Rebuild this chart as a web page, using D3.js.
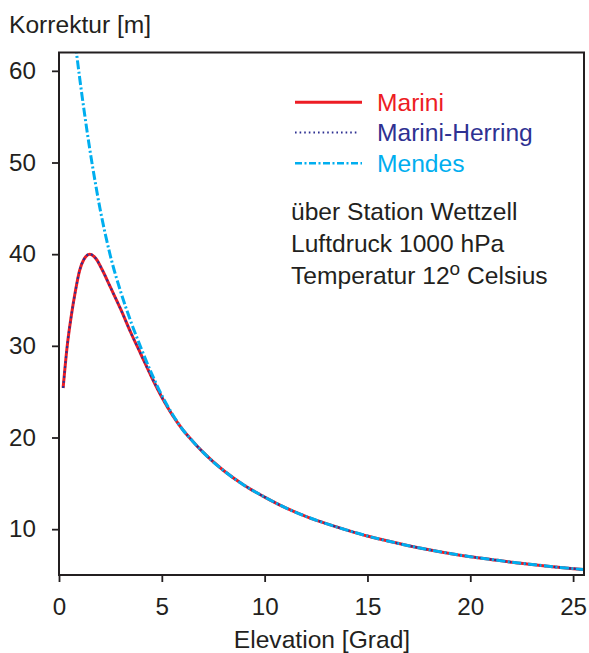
<!DOCTYPE html>
<html>
<head>
<meta charset="utf-8">
<script src="https://cdn.jsdelivr.net/npm/d3@7"></script>
<style>
  html, body { margin: 0; padding: 0; background: #fff; }
  svg { display: block; font-family: "Liberation Sans", Arial, Helvetica, sans-serif; }
</style>
</head>
<body>
<svg id="chart" width="589" height="653"></svg>
<script>
// Elevation angles [Grad] and path corrections [m]
const marini = [
  [0.2, 25.4], [0.4, 30.0], [0.6, 33.3], [0.8, 36.0], [1.0, 38.2], [1.2, 39.4],
  [1.5, 40.0], [1.8, 39.5], [2.1, 38.3], [2.5, 36.4], [3.0, 34.0], [3.5, 31.4],
  [4.0, 29.0], [4.5, 26.6], [5.0, 24.4], [5.5, 22.5], [6.0, 20.9], [6.5, 19.6],
  [7.0, 18.4], [8.0, 16.4], [9.0, 14.8], [10.0, 13.5], [11.0, 12.35], [12.0, 11.4],
  [13.0, 10.6], [14.0, 9.9], [15.0, 9.25], [16.0, 8.7], [17.0, 8.2], [18.0, 7.75],
  [19.0, 7.35], [20.0, 7.0], [21.0, 6.7], [22.0, 6.4], [23.0, 6.15], [24.0, 5.9],
  [25.5, 5.6]
];
const mariniHerring = [
  [0.2, 25.4], [0.4, 30.0], [0.6, 33.3], [0.8, 36.0], [1.0, 38.2], [1.2, 39.4],
  [1.5, 40.0], [1.8, 39.5], [2.1, 38.3], [2.5, 36.4], [3.0, 34.0], [3.5, 31.4],
  [4.0, 29.0], [4.5, 26.6], [5.0, 24.4], [5.5, 22.5], [6.0, 20.9], [6.5, 19.6],
  [7.0, 18.4], [8.0, 16.4], [9.0, 14.8], [10.0, 13.5], [11.0, 12.35], [12.0, 11.4],
  [13.0, 10.6], [14.0, 9.9], [15.0, 9.25], [16.0, 8.7], [17.0, 8.2], [18.0, 7.75],
  [19.0, 7.35], [20.0, 7.0], [21.0, 6.7], [22.0, 6.4], [23.0, 6.15], [24.0, 5.9],
  [25.5, 5.6]
];
const mendes = [
  [0.8, 62.9], [1.0, 59.3], [1.25, 55.2], [1.5, 51.4], [1.75, 48.0], [2.0, 44.9],
  [2.25, 42.2], [2.5, 39.8], [3.0, 35.9], [3.5, 32.6], [4.0, 29.7], [4.5, 27.0],
  [5.0, 24.6], [5.5, 22.6], [6.0, 20.9], [6.5, 19.6], [7.0, 18.4], [8.0, 16.4],
  [9.0, 14.8], [10.0, 13.5], [11.0, 12.35], [12.0, 11.4], [13.0, 10.6], [14.0, 9.9],
  [15.0, 9.25], [16.0, 8.7], [17.0, 8.2], [18.0, 7.75], [19.0, 7.35], [20.0, 7.0],
  [21.0, 6.7], [22.0, 6.4], [23.0, 6.15], [24.0, 5.9], [25.5, 5.6]
];
const xTicks = [0, 5, 10, 15, 20, 25];
const yTicks = [10, 20, 30, 40, 50, 60];
const seriesNames = ["Marini", "Marini-Herring", "Mendes"];
const noteLines = ["über Station Wettzell", "Luftdruck 1000 hPa"];

const ink = "#231f20";
const colors = { red: "#ed1c24", navy: "#2e3192", cyan: "#00aeef" };
const textSize = 24.6;

const svg = d3.select("#chart");
const plotL = 59, plotR = 584, plotT = 52.5, plotB = 575;

const x = d3.scaleLinear().domain([0, 25.53]).range([plotL, plotR]);
const y = d3.scaleLinear().domain([5, 62]).range([plotB, plotT]);

// clip for the curves
svg.append("defs").append("clipPath").attr("id", "plotClip")
  .append("rect").attr("x", plotL).attr("y", plotT)
  .attr("width", plotR - plotL).attr("height", plotB - plotT);

const line = d3.line().x(d => x(d[0])).y(d => y(d[1])).curve(d3.curveMonotoneX);

const curves = svg.append("g").attr("clip-path", "url(#plotClip)");
curves.append("path").datum(marini).attr("d", line)
  .attr("fill", "none").attr("stroke", colors.red).attr("stroke-width", 3);
curves.append("path").datum(mariniHerring).attr("d", line)
  .attr("fill", "none").attr("stroke", colors.navy).attr("stroke-width", 2.2)
  .attr("stroke-dasharray", "2,3");
curves.append("path").datum(mendes).attr("d", line)
  .attr("fill", "none").attr("stroke", colors.cyan).attr("stroke-width", 3)
  .attr("stroke-dasharray", "9,2.5,2,2.5");

// frame
svg.append("rect").attr("x", plotL).attr("y", plotT)
  .attr("width", plotR - plotL).attr("height", plotB - plotT)
  .attr("fill", "none").attr("stroke", ink).attr("stroke-width", 2);

// axes
const xAxis = d3.axisBottom(x).tickValues(xTicks).tickSize(7).tickPadding(16).tickFormat(d3.format("d"));
const yAxis = d3.axisLeft(y).tickValues(yTicks).tickSize(7).tickPadding(16).tickFormat(d3.format("d"));

const gx = svg.append("g").attr("transform", `translate(0,${plotB})`).call(xAxis);
const gy = svg.append("g").attr("transform", `translate(${plotL},0)`).call(yAxis);
[gx, gy].forEach(g => {
  g.select(".domain").remove();
  g.selectAll(".tick line").attr("stroke", ink).attr("stroke-width", 1.8);
  g.selectAll(".tick text").attr("fill", ink).attr("font-size", 24.2)
    .attr("font-family", "Liberation Sans, Arial, sans-serif");
});

// axis titles
svg.append("text").attr("x", 9).attr("y", 33).attr("fill", ink)
  .attr("font-size", textSize).text("Korrektur [m]");
svg.append("text").attr("x", 322).attr("y", 648).attr("fill", ink)
  .attr("text-anchor", "middle").attr("font-size", textSize).text("Elevation [Grad]");

// legend
const legend = svg.append("g");
const legendStyles = [
  { color: colors.red, width: 3, dash: null, y: 102.3, x2: 362 },
  { color: colors.navy, width: 2, dash: "1.6,3", y: 132.5, x2: 358 },
  { color: colors.cyan, width: 2.5, dash: "7,2.5,2,2.5", y: 163.3, x2: 362 }
];
seriesNames.forEach((name, i) => {
  const s = legendStyles[i];
  legend.append("line").attr("x1", 295).attr("x2", s.x2).attr("y1", s.y).attr("y2", s.y)
    .attr("stroke", s.color).attr("stroke-width", s.width)
    .attr("stroke-dasharray", s.dash);
  legend.append("text").attr("x", 377).attr("y", s.y + 8.3).attr("fill", s.color)
    .attr("font-size", textSize).text(name);
});

// station notes
const notes = svg.append("g").attr("fill", ink).attr("font-size", textSize);
noteLines.forEach((t, i) => {
  notes.append("text").attr("x", 291).attr("y", 220 + i * 32).text(t);
});
const tempText = notes.append("text").attr("x", 291).attr("y", 284);
tempText.append("tspan").text("Temperatur 12");
tempText.append("tspan").attr("dy", -9.5).attr("font-size", 19).text("o");
tempText.append("tspan").attr("dy", 9.5).text(" Celsius");
</script>
</body>
</html>
